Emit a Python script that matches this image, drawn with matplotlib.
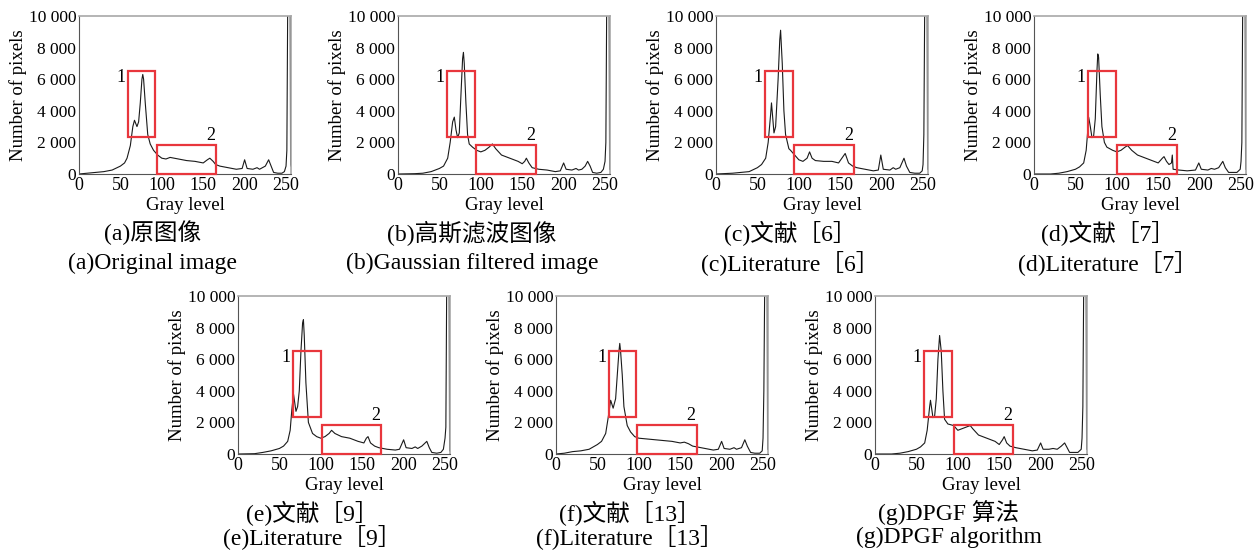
import matplotlib
matplotlib.use('Agg')
import matplotlib.pyplot as plt
from matplotlib.patches import Rectangle
from matplotlib.ticker import FuncFormatter

plt.rcParams['font.family'] = ['Liberation Serif', 'Noto Sans CJK SC']

# gray level / pixel count
gray_a = [0, 10, 20, 30, 40, 50, 55, 58, 62, 65, 67, 70, 72, 74, 76, 77, 78, 80, 83, 86, 90, 95, 100, 105,
          110, 115, 120, 130, 140, 150, 155, 158, 162, 165, 170, 180, 190, 197, 200, 203, 210, 215, 218,
          225, 229, 232, 235, 240, 245, 248, 250, 251, 252, 255, 255.5, 256]
count_a = [0, 50, 100, 150, 250, 500, 700, 1000, 1800, 3000, 3400, 3000, 3300, 4500, 6000, 6300, 6000, 4500,
           2500, 1900, 1500, 1200, 1000, 950, 1050, 1000, 950, 850, 800, 700, 900, 1000, 800, 600, 500, 400,
           300, 350, 900, 350, 300, 400, 300, 500, 900, 500, 100, 50, 50, 150, 500, 1500, 10500, 10500, 600, 500]

gray_b = [0, 20, 30, 40, 50, 55, 60, 63, 66, 68, 70, 72, 74, 76, 78, 79, 80, 82, 84, 86, 90, 95, 100, 105,
          110, 114, 118, 125, 135, 145, 150, 153, 155, 158, 162, 170, 180, 190, 196, 200, 203, 210, 215, 218,
          222, 226, 229, 232, 235, 240, 245, 248, 250, 251, 252, 255, 255.5]
count_b = [0, 20, 50, 150, 350, 500, 1000, 2000, 3300, 3600, 2800, 2300, 2600, 5000, 7300, 7700, 7000, 4500,
           2500, 1900, 1700, 1500, 1400, 1500, 1700, 1900, 1600, 1200, 1000, 800, 650, 800, 1000, 700, 400, 300,
           250, 150, 200, 700, 300, 250, 350, 250, 300, 500, 800, 500, 100, 50, 100, 300, 800, 2000, 10500,
           10500, 300]

gray_c = [0, 20, 30, 40, 50, 55, 60, 63, 66, 67, 70, 72, 75, 77, 78, 80, 82, 84, 88, 90, 95, 100, 105, 110,
          113, 116, 120, 130, 140, 148, 152, 156, 160, 165, 170, 180, 190, 196, 199, 202, 210, 214, 217, 222,
          227, 230, 234, 240, 246, 249, 250, 251, 252, 255, 255.5]
count_c = [0, 50, 100, 150, 400, 600, 1000, 2000, 3800, 4500, 2600, 3000, 6000, 8500, 9100, 7000, 4000, 2500,
           1600, 1500, 1200, 900, 800, 1000, 1400, 1000, 850, 800, 800, 700, 1000, 1300, 700, 500, 400, 300,
           200, 250, 1200, 300, 250, 400, 300, 400, 1000, 500, 100, 50, 50, 200, 600, 2500, 10500, 10500, 300]

gray_d = [0, 20, 30, 40, 50, 55, 60, 63, 65, 66, 68, 70, 72, 74, 76, 77, 78, 80, 82, 85, 88, 95, 100, 105,
          110, 113, 118, 125, 130, 140, 150, 155, 157, 160, 163, 166, 167, 168, 175, 185, 195, 199, 202, 210,
          214, 218, 223, 228, 231, 235, 245, 249, 250, 251, 252, 255, 255.5]
count_d = [0, 0, 50, 150, 300, 450, 700, 1500, 2800, 3600, 3000, 2300, 2400, 3500, 6500, 7600, 7400, 5000,
           3000, 2000, 1700, 1500, 1400, 1500, 1700, 1800, 1500, 1200, 1100, 900, 700, 1000, 1100, 800, 600,
           700, 1200, 300, 250, 200, 250, 700, 300, 250, 350, 300, 400, 800, 400, 100, 100, 300, 800, 2000,
           10500, 10500, 300]

gray_e = [0, 20, 30, 40, 50, 55, 60, 63, 65, 67, 70, 72, 74, 76, 78, 79, 80, 82, 85, 90, 95, 100, 105, 110,
          113, 117, 125, 135, 145, 152, 155, 157, 160, 165, 170, 180, 190, 195, 200, 203, 210, 214, 217, 222,
          228, 231, 234, 240, 245, 248, 250, 251, 252, 255, 255.5]
count_e = [0, 20, 100, 200, 350, 500, 800, 1500, 2800, 3800, 2700, 3000, 4000, 6500, 8300, 8500, 7500, 4500,
           2000, 1300, 1100, 1000, 1100, 1300, 1500, 1300, 1100, 1000, 800, 700, 1000, 1100, 700, 500, 400, 300,
           250, 300, 900, 400, 350, 450, 350, 500, 800, 400, 100, 50, 100, 300, 1000, 1700, 10500, 10500, 200]

gray_f = [0, 10, 20, 30, 40, 50, 55, 60, 63, 66, 69, 72, 74, 76, 77, 78, 80, 82, 86, 90, 95, 100, 110, 120,
          130, 140, 150, 155, 160, 165, 170, 180, 190, 196, 200, 203, 210, 215, 218, 224, 228, 231, 235, 240,
          246, 249, 250, 251, 252, 255, 255.5]
count_f = [0, 50, 150, 200, 300, 600, 800, 1300, 2300, 3400, 2900, 3500, 5000, 6500, 7000, 6500, 5000, 3000,
           1800, 1400, 1100, 1000, 950, 900, 850, 800, 700, 750, 650, 500, 450, 350, 250, 300, 800, 350, 300, 400,
           300, 400, 900, 500, 100, 50, 50, 200, 1000, 4000, 10500, 10500, 300]

gray_g = [0, 20, 30, 40, 50, 55, 60, 63, 66, 67, 70, 72, 74, 76, 78, 80, 82, 84, 88, 95, 100, 105, 110, 115,
          118, 125, 135, 145, 150, 154, 156, 159, 163, 170, 180, 190, 196, 200, 203, 210, 215, 220, 225, 229,
          232, 235, 245, 249, 250, 251, 252, 255, 255.5]
count_g = [0, 0, 50, 150, 300, 450, 700, 1500, 3000, 3400, 2300, 2400, 3500, 6000, 7500, 6500, 4000, 2200,
           1900, 1800, 1500, 1600, 1700, 1800, 1600, 1200, 1000, 800, 600, 900, 1100, 700, 500, 400, 300, 200,
           250, 700, 300, 300, 350, 300, 500, 700, 400, 100, 100, 300, 1000, 3000, 10500, 10500, 300]

# red boxes: (gray from, gray to) for region 1 and region 2
box1 = {'a': (59, 92), 'b': (59, 93), 'c': (59, 93), 'd': (65, 99), 'e': (66, 100), 'f': (64, 97), 'g': (59, 93)}
box2 = {'a': (94, 166), 'b': (94, 167), 'c': (94, 167), 'd': (100, 173), 'e': (101, 173), 'f': (98, 170), 'g': (95, 167)}

captions_cn = {'a': '(a)原图像', 'b': '(b)高斯滤波图像', 'c': '(c)文献［6］', 'd': '(d)文献［7］',
               'e': '(e)文献［9］', 'f': '(f)文献［13］', 'g': '(g)DPGF 算法'}
captions_en = {'a': '(a)Original image', 'b': '(b)Gaussian filtered image', 'c': '(c)Literature［6］',
               'd': '(d)Literature［7］', 'e': '(e)Literature［9］', 'f': '(f)Literature［13］',
               'g': '(g)DPGF algorithm'}

series = {'a': (gray_a, count_a), 'b': (gray_b, count_b), 'c': (gray_c, count_c), 'd': (gray_d, count_d),
          'e': (gray_e, count_e), 'f': (gray_f, count_f), 'g': (gray_g, count_g)}

W, H = 1256, 552
# axes left edge and top edge in pixels
layout = {'a': (79, 16), 'b': (398, 16), 'c': (716, 16), 'd': (1034, 16),
          'e': (238, 296), 'f': (556, 296), 'g': (875, 296)}
aw, ah = 212, 158

fig = plt.figure(figsize=(W / 100, H / 100), dpi=100)
red = '#e8363c'

for key, (lx, ty) in layout.items():
    ax = fig.add_axes([lx / W, 1 - (ty + ah) / H, aw / W, ah / H])
    g, c = series[key]
    ax.plot(g, c, color='#1a1a1a', lw=0.8)
    ax.set_xlim(0, 256)
    ax.set_ylim(0, 10000)
    ax.set_xticks([0, 50, 100, 150, 200, 250])
    ax.set_yticks(range(0, 10001, 2000))
    ax.yaxis.set_major_formatter(FuncFormatter(lambda v, p: f'{int(v):,}'.replace(',', ' ')))
    ax.tick_params(length=0, pad=2)
    ax.tick_params(axis='x', labelsize=13)
    ax.tick_params(axis='y', labelsize=12.5)
    for s in ['top', 'right']:
        ax.spines[s].set_color('#a8a8a8')
        ax.spines[s].set_linewidth(1.2)
    for s in ['left', 'bottom']:
        ax.spines[s].set_color('#555555')
    ax.set_xlabel('Gray level', fontsize=13.5, labelpad=2)
    ax.set_ylabel('Number of pixels', fontsize=13.5, labelpad=1)

    x0, x1 = box1[key]
    ax.add_patch(Rectangle((x0, 2350), x1 - x0, 6500 - 2350, fill=False, ec=red, lw=1.6, clip_on=False, zorder=5))
    ax.text(x0 - 3, 6100, '1', fontsize=13, ha='right', va='center')
    x0, x1 = box2[key]
    ax.add_patch(Rectangle((x0, 30), x1 - x0, 1780, fill=False, ec=red, lw=1.6, clip_on=False, zorder=5))
    ax.text(x1 - 7, 2450, '2', fontsize=13, ha='center', va='center')

    cx = lx + aw / 2 - 32
    line2 = 247 if ty < 100 else 241
    fig.text(cx / W, 1 - (ty + 217) / H, captions_cn[key], fontsize=17, ha='center', va='center')
    fig.text(cx / W, 1 - (ty + line2) / H, captions_en[key], fontsize=17, ha='center', va='center')

fig.savefig('out.png', dpi=100)
